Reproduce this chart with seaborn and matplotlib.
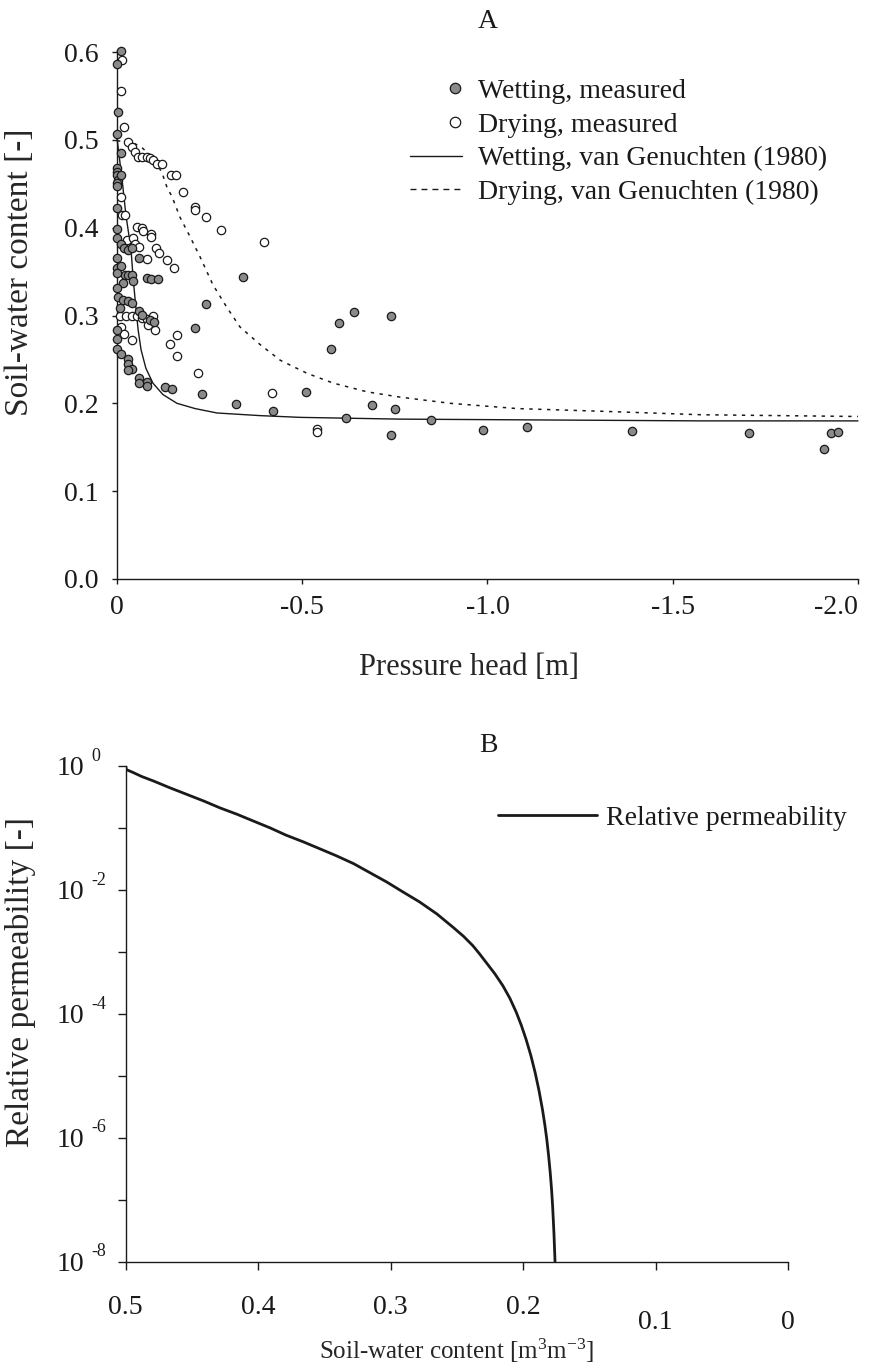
import matplotlib

matplotlib.use("Agg")

import matplotlib.pyplot as plt
import pandas as pd
import seaborn as sns
from matplotlib.legend_handler import HandlerLine2D
from matplotlib.lines import Line2D

# Panel A - measured points, pressure head [m] vs soil-water content [-]
WET_HEAD = [-0.010, 0.0, -0.004, 0.0, -0.010, 0.0, 0.0, 0.0, -0.004, 0.0,
            0.0, -0.010, 0.0, 0.0, 0.0, -0.010, -0.019, 0.0, -0.030, -0.040,
            -0.060, 0.0, -0.010, -0.022, -0.030, 0.0, -0.040, -0.044, -0.017, 0.0,
            -0.080, -0.091, -0.110, -0.004, -0.017, -0.030, -0.040, -0.008, -0.060, -0.067,
            -0.089, -0.100, 0.0, 0.0, 0.0, -0.010, -0.030, -0.030, -0.040, -0.030,
            -0.060, -0.080, -0.060, -0.080, -0.130, -0.149, -0.230, -0.320, -0.420, -0.340,
            -0.241, -0.211, -0.509, -0.578, -0.600, -0.639, -0.740, -0.689, -0.750, -0.619,
            -0.848, -0.740, -0.988, -1.107, -1.389, -1.707, -1.907, -1.927, -1.946]
WET_THETA = [0.601, 0.586, 0.532, 0.507, 0.485, 0.468, 0.464, 0.460, 0.454, 0.451,
             0.447, 0.460, 0.422, 0.399, 0.388, 0.382, 0.377, 0.365, 0.375, 0.377,
             0.365, 0.354, 0.356, 0.346, 0.346, 0.348, 0.346, 0.339, 0.337, 0.331,
             0.343, 0.342, 0.342, 0.321, 0.318, 0.316, 0.314, 0.308, 0.305, 0.301,
             0.295, 0.293, 0.284, 0.273, 0.262, 0.256, 0.251, 0.245, 0.239, 0.238,
             0.229, 0.224, 0.223, 0.220, 0.219, 0.216, 0.211, 0.199, 0.191, 0.344,
             0.313, 0.286, 0.213, 0.262, 0.291, 0.304, 0.300, 0.198, 0.193, 0.183,
             0.181, 0.164, 0.170, 0.173, 0.169, 0.166, 0.148, 0.166, 0.167]

DRY_HEAD = [-0.013, -0.010, -0.019, -0.031, -0.040, -0.049, -0.058, -0.067, -0.080, -0.089,
            -0.098, -0.107, -0.121, -0.145, -0.159, -0.177, -0.211, -0.211, -0.241, -0.280,
            -0.397, -0.010, -0.013, -0.022, -0.053, -0.067, -0.071, -0.091, -0.091, -0.026,
            -0.044, -0.049, -0.060, -0.080, -0.105, -0.114, -0.134, -0.154, -0.008, -0.024,
            -0.040, -0.053, -0.067, -0.080, -0.098, -0.085, -0.103, -0.010, -0.020, -0.040,
            -0.163, -0.143, -0.163, -0.220, -0.419, -0.540, -0.540]
DRY_THETA = [0.591, 0.556, 0.515, 0.498, 0.492, 0.486, 0.481, 0.481, 0.481, 0.479,
             0.477, 0.473, 0.473, 0.460, 0.460, 0.441, 0.424, 0.420, 0.412, 0.397,
             0.384, 0.435, 0.414, 0.414, 0.401, 0.400, 0.396, 0.393, 0.389, 0.386,
             0.388, 0.382, 0.378, 0.364, 0.377, 0.371, 0.363, 0.354, 0.300, 0.300,
             0.300, 0.299, 0.297, 0.296, 0.299, 0.289, 0.284, 0.287, 0.279, 0.272,
             0.278, 0.268, 0.254, 0.234, 0.212, 0.171, 0.167]

# van Genuchten curves
WET_FIT_HEAD = [0.0, -0.014, -0.024, -0.032, -0.038, -0.043, -0.049, -0.057, -0.065, -0.078,
                -0.097, -0.124, -0.162, -0.211, -0.270, -0.386, -0.495, -0.765, -1.170, -1.576, -2.0]
WET_FIT_THETA = [0.502, 0.454, 0.415, 0.392, 0.375, 0.346, 0.318, 0.284, 0.261, 0.240,
                 0.223, 0.210, 0.200, 0.194, 0.189, 0.186, 0.184, 0.182, 0.181, 0.180, 0.180]

DRY_FIT_HEAD = [0.0, -0.043, -0.068, -0.103, -0.122, -0.135, -0.149, -0.170, -0.197, -0.224,
                -0.259, -0.297, -0.332, -0.386, -0.441, -0.514, -0.584, -0.676, -0.765, -0.900,
                -1.081, -1.305, -1.576, -2.0]
DRY_FIT_THETA = [0.499, 0.497, 0.491, 0.477, 0.462, 0.446, 0.435, 0.412, 0.390, 0.367,
                 0.335, 0.309, 0.287, 0.267, 0.249, 0.234, 0.223, 0.213, 0.207, 0.200,
                 0.194, 0.191, 0.187, 0.185]

# Panel B - relative permeability vs soil-water content
KR_THETA = [0.500, 0.4995, 0.495, 0.488, 0.479, 0.467, 0.454, 0.441, 0.429, 0.416,
            0.404, 0.391, 0.379, 0.366, 0.354, 0.341, 0.328, 0.316, 0.303, 0.291,
            0.278, 0.265, 0.253, 0.245, 0.238, 0.233, 0.228, 0.2215, 0.2153, 0.210,
            0.2051, 0.2013, 0.1978, 0.1942, 0.1909, 0.1880, 0.1854, 0.1836, 0.1821, 0.1807,
            0.1795, 0.1785, 0.1777, 0.1767, 0.1759]
KR_VALUE = [1.0, 0.871, 0.794, 0.676, 0.571, 0.447, 0.348, 0.271, 0.211, 0.166,
            0.130, 0.100, 0.0764, 0.0596, 0.0465, 0.0355, 0.0265, 0.0191, 0.0134, 9.33e-3,
            6.35e-3, 4.07e-3, 2.50e-3, 1.78e-3, 1.26e-3, 9.33e-4, 6.78e-4, 4.47e-4, 2.84e-4, 1.78e-4,
            1.05e-4, 6.46e-5, 3.89e-5, 2.14e-5, 1.12e-5, 5.75e-6, 2.86e-6, 1.62e-6, 9.35e-7, 5.01e-7,
            2.69e-7, 1.45e-7, 7.78e-8, 2.82e-8, 1.0e-8]

A_XTICKS = [0.0, -0.5, -1.0, -1.5, -2.0]
A_XTICKLABELS = ["0", "-0.5", "-1.0", "-1.5", "-2.0"]
A_YTICKS = [0.0, 0.1, 0.2, 0.3, 0.4, 0.5, 0.6]
B_XTICKS = [0.5, 0.4, 0.3, 0.2, 0.1, 0.0]
B_XTICKLABELS = ["0.5", "0.4", "0.3", "0.2", "0.1", "0"]
B_YTICKS = [1e0, 1e-1, 1e-2, 1e-3, 1e-4, 1e-5, 1e-6, 1e-7, 1e-8]
B_YEXPONENTS = ["0", "", "-2", "", "-4", "", "-6", "", "-8"]

FS = 20
FS_YLABEL = 24
GREY = "#8a8a8a"
INK = "#1a1a1a"


class MarkerAtRight(HandlerLine2D):
    # legend marker sits at the right end of the handle, next to the text
    def create_artists(self, legend, orig_handle, xdescent, ydescent, width, height, fontsize, trans):
        artists = super().create_artists(legend, orig_handle, xdescent, ydescent,
                                         width, height, fontsize, trans)
        for artist in artists:
            y = artist.get_ydata()[0]
            artist.set_markevery(None)
            artist.set_data([width - xdescent - 0.25 * fontsize], [y])
        return artists


def style_spines(ax):
    sns.despine(ax=ax)
    for side in ("left", "bottom"):
        ax.spines[side].set_linewidth(1.0)
        ax.spines[side].set_color(INK)


def draw_panel_a(ax):
    wet = pd.DataFrame({"head": WET_HEAD, "theta": WET_THETA})
    dry = pd.DataFrame({"head": DRY_HEAD, "theta": DRY_THETA})
    wet_fit = pd.DataFrame({"head": WET_FIT_HEAD, "theta": WET_FIT_THETA})
    dry_fit = pd.DataFrame({"head": DRY_FIT_HEAD, "theta": DRY_FIT_THETA})

    sns.lineplot(data=wet_fit, x="head", y="theta", ax=ax, color=INK, lw=1.0,
                 sort=False, estimator=None, clip_on=False)
    sns.lineplot(data=dry_fit, x="head", y="theta", ax=ax, color=INK, lw=1.1,
                 linestyle=(0, (2.2, 3.6)), sort=False, estimator=None, clip_on=False)
    sns.scatterplot(data=dry, x="head", y="theta", ax=ax, s=36, color="white",
                    edgecolor=INK, linewidth=0.9, clip_on=False, zorder=3)
    sns.scatterplot(data=wet, x="head", y="theta", ax=ax, s=36, color=GREY,
                    edgecolor=INK, linewidth=0.9, clip_on=False, zorder=4)

    ax.set_xlim(0.0, -2.0)
    ax.set_ylim(0.0, 0.602)
    ax.set_xticks(A_XTICKS, A_XTICKLABELS)
    ax.set_yticks(A_YTICKS, [f"{v:.1f}" for v in A_YTICKS])
    ax.tick_params(direction="out", length=3.5, width=1.0, labelsize=FS, color=INK)
    ax.tick_params(axis="y", pad=10)
    ax.tick_params(axis="x", pad=8)
    ax.get_xticklabels()[-1].set_horizontalalignment("right")
    style_spines(ax)

    ax.set_xlabel("Pressure head [m]", fontsize=22)
    ax.set_ylabel("Soil-water content [-]", fontsize=FS_YLABEL)
    ax.xaxis.set_label_coords(0.475, -0.14)
    ax.yaxis.set_label_coords(-0.11, 0.58)

    handles = [
        Line2D([], [], ls="none", marker="o", ms=7.5, mfc=GREY, mec=INK, mew=0.9),
        Line2D([], [], ls="none", marker="o", ms=7.5, mfc="white", mec=INK, mew=0.9),
        Line2D([], [], color=INK, lw=1.0),
        Line2D([], [], color=INK, lw=1.0, linestyle=(0, (4.3, 3.6))),
    ]
    labels = ["Wetting, measured", "Drying, measured",
              "Wetting, van Genuchten (1980)", "Drying, van Genuchten (1980)"]
    ax.legend(handles, labels, loc="upper left", bbox_to_anchor=(0.395, 0.947),
              frameon=False, fontsize=FS, borderpad=0, borderaxespad=0,
              handlelength=1.9, handletextpad=0.55, labelspacing=0.3,
              handler_map={handles[0]: MarkerAtRight(), handles[1]: MarkerAtRight()})


def draw_panel_b(ax):
    kr = pd.DataFrame({"theta": KR_THETA, "kr": KR_VALUE})
    sns.lineplot(data=kr, x="theta", y="kr", ax=ax, color=INK, lw=2.0,
                 sort=False, estimator=None, label="Relative permeability")

    ax.set_yscale("log")
    ax.set_xlim(0.5, 0.0)
    ax.set_ylim(1e-8, 1e0)
    ax.set_xticks(B_XTICKS, B_XTICKLABELS)
    ax.set_yticks(B_YTICKS, ["10" if e else "" for e in B_YEXPONENTS])
    ax.minorticks_off()
    ax.tick_params(direction="out", length=5.8, width=1.0, labelsize=FS, color=INK)
    ax.tick_params(axis="y", pad=24)
    ax.tick_params(axis="x", pad=18)
    # the last two labels sit a little lower in the original
    for tick in ax.xaxis.get_major_ticks()[4:]:
        tick.set_pad(29)
    for value, exponent in zip(B_YTICKS, B_YEXPONENTS):
        if exponent:
            ax.annotate(exponent, xy=(0, value), xycoords=("axes fraction", "data"),
                        xytext=(-24.5, 7), textcoords="offset points",
                        ha="left", va="center", fontsize=13)
    style_spines(ax)

    ax.set_xlabel("Soil-water content [m$^{3}$m$^{-3}$]", fontsize=18)
    ax.set_ylabel("Relative permeability [-]", fontsize=FS_YLABEL)
    ax.xaxis.set_label_coords(0.5, -0.151)
    ax.yaxis.set_label_coords(-0.136, 0.564)

    ax.legend(loc="upper left", bbox_to_anchor=(0.562, 0.921), frameon=False,
              fontsize=FS, borderpad=0, borderaxespad=0,
              handlelength=3.56, handletextpad=0.32)


def main() -> None:
    sns.set_theme(style="ticks")
    plt.rcParams["font.family"] = ["Liberation Serif", "DejaVu Serif"]
    plt.rcParams["mathtext.fontset"] = "custom"
    plt.rcParams["mathtext.rm"] = "Liberation Serif"
    plt.rcParams["mathtext.it"] = "Liberation Serif:italic"
    plt.rcParams["axes.unicode_minus"] = False
    plt.rcParams["text.color"] = INK
    plt.rcParams["xtick.color"] = INK
    plt.rcParams["ytick.color"] = INK

    fig = plt.figure(figsize=(8.69, 13.68), dpi=100)
    ax_a = fig.add_axes([0.1346, 0.5768, 0.8527, 0.3864])
    ax_b = fig.add_axes([0.1447, 0.0778, 0.7621, 0.3623])

    draw_panel_a(ax_a)
    draw_panel_b(ax_b)

    fig.text(488 / 869, 1 - 21 / 1368, "A", ha="center", va="center", fontsize=FS)
    fig.text(488 / 869, 1 - 745 / 1368, "B", ha="center", va="center", fontsize=FS)

    fig.savefig("out.png", dpi=100)
    plt.close(fig)


if __name__ == "__main__":
    main()
